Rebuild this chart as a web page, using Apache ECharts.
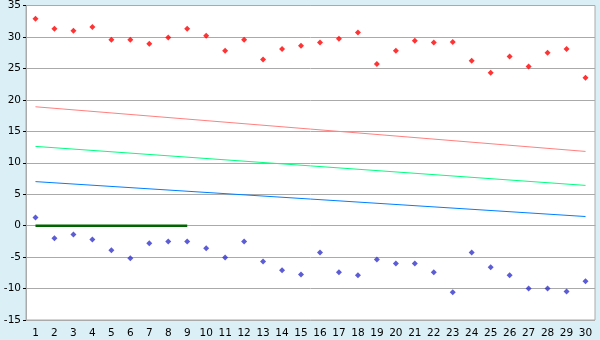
<!DOCTYPE html>
<html><head><meta charset="utf-8">
<script src="https://cdn.jsdelivr.net/npm/echarts@6/dist/echarts.min.js"></script>
<style>html,body{margin:0;padding:0;background:#dbf0f6;}#c{width:600px;height:340px;}</style>
</head><body><div id="c"></div>
<script>
const categories = ['1','2','3','4','5','6','7','8','9','10','11','12','13','14','15','16','17','18','19','20','21','22','23','24','25','26','27','28','29','30'];
const redPoints = [32.9,31.3,31.0,31.6,29.55,29.55,28.9,29.9,31.3,30.2,27.8,29.55,26.4,28.1,28.6,29.1,29.7,30.7,25.7,27.8,29.4,29.1,29.2,26.2,24.3,26.9,25.3,27.5,28.1,23.5];
const bluePoints = [1.3,-2.0,-1.4,-2.2,-3.9,-5.2,-2.8,-2.5,-2.5,-3.6,-5.05,-2.5,-5.7,-7.1,-7.75,-4.25,-7.4,-7.9,-5.4,-6.0,-6.0,-7.4,-10.6,-4.25,-6.6,-7.9,-10.0,-10.0,-10.45,-8.85];
const redLine = [['1',18.9],['30',11.8]];
const greenLine = [['1',12.6],['30',6.4]];
const blueLine = [['1',7.0],['30',1.45]];
const zeroLine = [['1',0],['9',0]];
const yTicks = {min:-15, max:35, interval:5};

const chart = echarts.init(document.getElementById('c'), null, {renderer:'canvas'});
const font = {fontFamily:'DejaVu Sans', fontSize:10.5, color:'#000'};
chart.setOption({
  animation:false,
  backgroundColor:'#dbf0f6',
  grid:{left:26, right:5, top:5, bottom:20, show:true, backgroundColor:'#fff', borderColor:'#aaaaaa', borderWidth:1},
  xAxis:{type:'category', data:categories, boundaryGap:true,
    axisLine:{lineStyle:{color:'#aaaaaa'}},
    axisTick:{alignWithLabel:true, length:5, lineStyle:{color:'#000'}},
    axisLabel:Object.assign({margin:8, interval:0}, font)},
  yAxis:{type:'value', min:yTicks.min, max:yTicks.max, interval:yTicks.interval,
    axisLine:{show:true, lineStyle:{color:'#aaaaaa'}},
    axisTick:{show:true, length:3, lineStyle:{color:'#000'}},
    splitLine:{lineStyle:{color:'#aaaaaa'}},
    axisLabel:Object.assign({margin:5}, font)},
  series:[
    {type:'line', data:redLine, symbol:'none', lineStyle:{color:'#ff8080', width:1}, z:2},
    {type:'line', data:greenLine, symbol:'none', lineStyle:{color:'#00ff80', width:1}, z:2},
    {type:'line', data:blueLine, symbol:'none', lineStyle:{color:'#0080ff', width:1}, z:2},
    {type:'line', data:zeroLine, symbol:'none', lineStyle:{color:'#006400', width:2.5}, z:3},
    {type:'scatter', data:redPoints, symbol:'diamond', symbolSize:6, itemStyle:{color:'#ff0000'}, z:4},
    {type:'scatter', data:bluePoints, symbol:'diamond', symbolSize:6, itemStyle:{color:'#3333cc'}, z:4}
  ]
});
</script></body></html>
